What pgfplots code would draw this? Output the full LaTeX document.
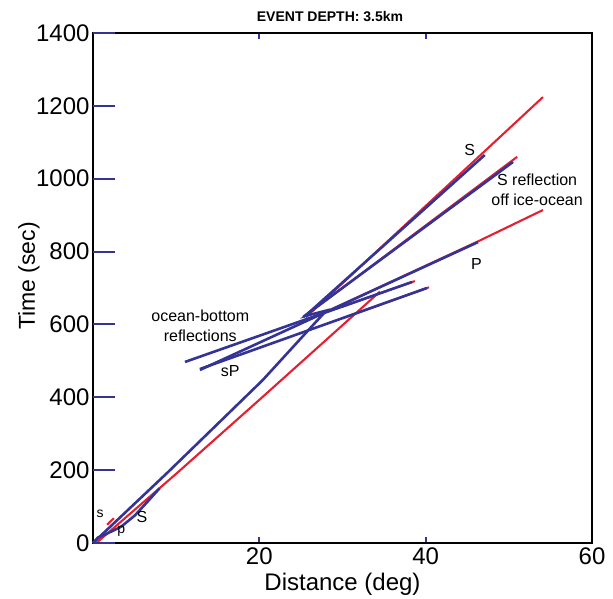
\documentclass[border=0pt]{standalone}
\usepackage{fontspec}
\setmainfont{Liberation Sans}
\usepackage{pgfplots}
\pgfplotsset{compat=1.18}
\definecolor{tred}{RGB}{228,32,48}
\definecolor{tblue}{RGB}{52,52,150}

\begin{document}
\begin{tikzpicture}
\pgfplotsset{
  common/.style={
    scale only axis, width=499pt, height=510pt,
    xmin=0, xmax=60, ymin=0, ymax=1400,
    tick align=inside,
    tick style={tblue, line width=2pt},
    ticklabel style={font=\fontsize{24}{28}\selectfont},
    /pgf/number format/assume math mode=true,
    /pgf/number format/1000 sep={},
  }
}
% main axis: frame, x ticks, curves
\begin{axis}[common,
  clip=false,
  axis line style={line width=2pt, black},
  major tick length=6pt,
  xtick={0,20,40,60}, xticklabels={,20,40,60},
  ytick=\empty,
  xticklabel style={yshift=-1pt},
  xlabel={Distance (deg)},
  xlabel style={font=\fontsize{24}{28}\selectfont, at={(axis description cs:0.5,0)}, anchor=base, yshift=-47pt},
]
% red curves
\addplot[tred, line width=2.1pt] coordinates {(0.4,0) (10,190) (20.1,395) (34.5,690)};
\addplot[tred, line width=2.1pt] coordinates {(28,634) (46.3,828) (54.1,914)};
\addplot[tred, line width=2.1pt] coordinates {(25.6,620) (54.1,1224)};
\addplot[tred, line width=2.1pt] coordinates {(25.3,620) (51.0,1060)};
\addplot[tred, line width=2.1pt] coordinates {(30,649) (38.7,719)};
\addplot[tred, line width=2.1pt] coordinates {(30,617) (40.4,702)};
\addplot[tred, line width=2.1pt] coordinates {(1.7,50) (2.5,68)};
% blue curves
\addplot[tblue, line width=2.6pt] coordinates {(0,0) (8.9,192) (20.4,447) (28.05,638) (25.5,623) (47.1,1065)};
\addplot[tblue, line width=2.6pt] coordinates {(25.3,621) (50.5,1046)};
\addplot[tblue, line width=2.6pt] coordinates {(11.06,497) (38.36,716.5)};
\addplot[tblue, line width=2.6pt] coordinates {(12.86,475) (46.3,826)};
\addplot[tblue, line width=2.6pt] coordinates {(12.86,477.6) (40.16,700)};
\addplot[tblue, line width=2.6pt] coordinates {(0,0) (0.6,15) (1.8,27) (3.4,45) (5.0,75) (6.5,112) (8,150)};
% annotations
\node[font=\fontsize{14}{16}\selectfont] at (axis cs:0.85,80) {s};
\node[font=\fontsize{14}{16}\selectfont] at (axis cs:3.4,32) {p};
\node[font=\fontsize{16}{18}\selectfont] at (axis cs:5.9,71) {S};
\node[font=\fontsize{16}{18}\selectfont] at (axis cs:16.5,472) {sP};
\node[font=\fontsize{16}{20}\selectfont, align=center] at (axis cs:12.9,596) {ocean-bottom\\reflections};
\node[font=\fontsize{16}{18}\selectfont] at (axis cs:45.3,1079) {S};
\node[font=\fontsize{16}{20}\selectfont, align=center] at (axis cs:53.4,969) {S reflection\\off ice-ocean};
\node[font=\fontsize{16}{18}\selectfont] at (axis cs:46.1,767) {P};
\node[font=\bfseries\fontsize{14}{16}\selectfont, anchor=base] at ([yshift=11pt]rel axis cs:0.475,1) {EVENT DEPTH: 3.5km};
\coordinate (bl) at (rel axis cs:0,0);
\coordinate (tr) at (rel axis cs:1,1);
\end{axis}
% overlay axis: long y ticks on the left
\begin{axis}[common,
  hide x axis,
  y axis line style={draw=none},
  ytick pos=left,
  major tick length=22pt,
  ytick={0,200,...,1400},
  ylabel={Time (sec)},
  ylabel style={font=\fontsize{23}{27}\selectfont, at={([xshift=-58pt]axis description cs:0,0.5235)}, anchor=base},
]
\end{axis}
\path (bl) ++(-93pt,-53pt) (tr) ++(21pt,33pt);
\end{tikzpicture}
\end{document}
